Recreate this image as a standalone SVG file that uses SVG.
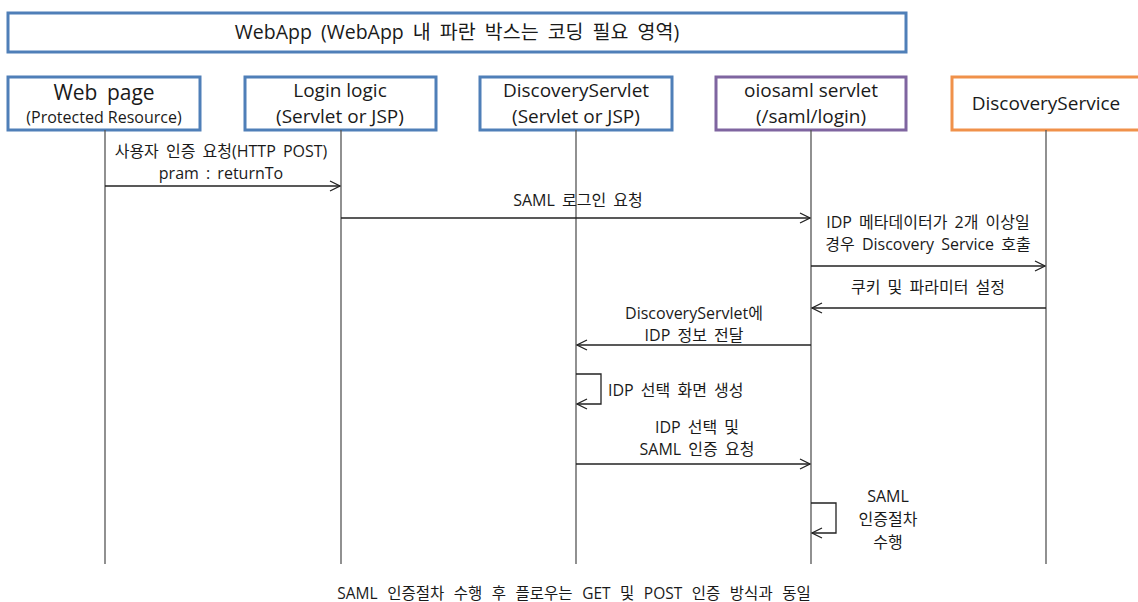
<svg xmlns="http://www.w3.org/2000/svg" width="1138" height="602" viewBox="0 0 1138 602">
<style>
text{font-family:"Open Sans","Noto Sans CJK KR",sans-serif;fill:#1a1a1a;text-anchor:middle}
.box{fill:#fff;stroke-width:3}
.blue{stroke:#4f7fb8}
.purple{stroke:#7f65a0}
.orange{stroke:#f0914a}
.t18{font-size:19px}
.t20{font-size:21px;word-spacing:4px}
.t14{font-size:16px}
.title{font-size:19.5px;word-spacing:4px}
.m{font-size:16px;word-spacing:3px}
.foot{font-size:15.5px;word-spacing:5.5px}
.life{stroke:#555;stroke-width:1.3;fill:none}
.msg{stroke:#222;stroke-width:1.3;fill:none}
</style>
<defs>
<marker id="ah" markerWidth="12" markerHeight="12" refX="11" refY="6" orient="auto" markerUnits="userSpaceOnUse">
<path d="M1,1 L11,6 L1,11" fill="none" stroke="#222" stroke-width="1.3"/>
</marker>
</defs>
<rect width="1138" height="602" fill="#fff"/>
<g id="webapp">
<rect class="box blue" x="8" y="13" width="898" height="39"/>
<text class="title" x="457" y="39">WebApp (WebApp 내 파란 박스는 코딩 필요 영역)</text>
</g>
<g id="webpage">
<rect class="box blue" x="8" y="77" width="192" height="53"/>
<text class="t20" x="104" y="100">Web page</text>
<text class="t14" x="104" y="123">(Protected Resource)</text>
</g>
<g id="loginlogic">
<rect class="box blue" x="245" y="77" width="191" height="53"/>
<text class="t18" x="340" y="97">Login logic</text>
<text class="t18" x="340" y="123">(Servlet or JSP)</text>
</g>
<g id="discoveryservlet">
<rect class="box blue" x="480" y="77" width="192" height="53"/>
<text class="t18" x="576" y="97">DiscoveryServlet</text>
<text class="t18" x="576" y="123">(Servlet or JSP)</text>
</g>
<g id="oiosaml">
<rect class="box purple" x="716" y="77" width="190" height="53"/>
<text class="t18" x="811" y="97">oiosaml servlet</text>
<text class="t18" x="811" y="123">(/saml/login)</text>
</g>
<g id="discoveryservice">
<rect class="box orange" x="952" y="77" width="190" height="53"/>
<text class="t18" x="1046" y="110">DiscoveryService</text>
</g>
<g id="connectors">
<line class="life" x1="105" y1="130" x2="105" y2="564"/>
<line class="life" x1="341" y1="130" x2="341" y2="564"/>
<line class="life" x1="576" y1="130" x2="576" y2="564"/>
<line class="life" x1="811" y1="130" x2="811" y2="564"/>
<line class="life" x1="1046" y1="130" x2="1046" y2="564"/>
<line class="msg" x1="105" y1="186" x2="340" y2="186" marker-end="url(#ah)"/>
<line class="msg" x1="341" y1="218" x2="810" y2="218" marker-end="url(#ah)"/>
<line class="msg" x1="811" y1="266" x2="1045" y2="266" marker-end="url(#ah)"/>
<line class="msg" x1="1046" y1="308" x2="812" y2="308" marker-end="url(#ah)"/>
<line class="msg" x1="811" y1="345" x2="577" y2="345" marker-end="url(#ah)"/>
<polyline class="msg" points="576,374 601,374 601,404 577,404" marker-end="url(#ah)"/>
<line class="msg" x1="576" y1="464" x2="810" y2="464" marker-end="url(#ah)"/>
<polyline class="msg" points="811,503 836,503 836,533 812,533" marker-end="url(#ah)"/>
</g>
<g id="labels">
<text class="m" x="221" y="157">사용자 인증 요청(HTTP POST)</text>
<text class="m" x="221" y="179">pram : returnTo</text>
<text class="m" x="578" y="206">SAML 로그인 요청</text>
<text class="m" x="928" y="228">IDP 메타데이터가 2개 이상일</text>
<text class="m" x="928" y="250">경우 Discovery Service 호출</text>
<text class="m" x="928" y="293">쿠키 및 파라미터 설정</text>
<text class="m" x="694" y="319">DiscoveryServlet에</text>
<text class="m" x="694" y="341">IDP 정보 전달</text>
<text class="m" x="608" y="396" style="text-anchor:start">IDP 선택 화면 생성</text>
<text class="m" x="697" y="433">IDP 선택 및</text>
<text class="m" x="697" y="455">SAML 인증 요청</text>
<text class="m" x="888" y="502">SAML</text>
<text class="m" x="888" y="525">인증절차</text>
<text class="m" x="888" y="548">수행</text>
<text class="foot" x="574" y="599">SAML 인증절차 수행 후 플로우는 GET 및 POST 인증 방식과 동일</text>
</g>
</svg>
